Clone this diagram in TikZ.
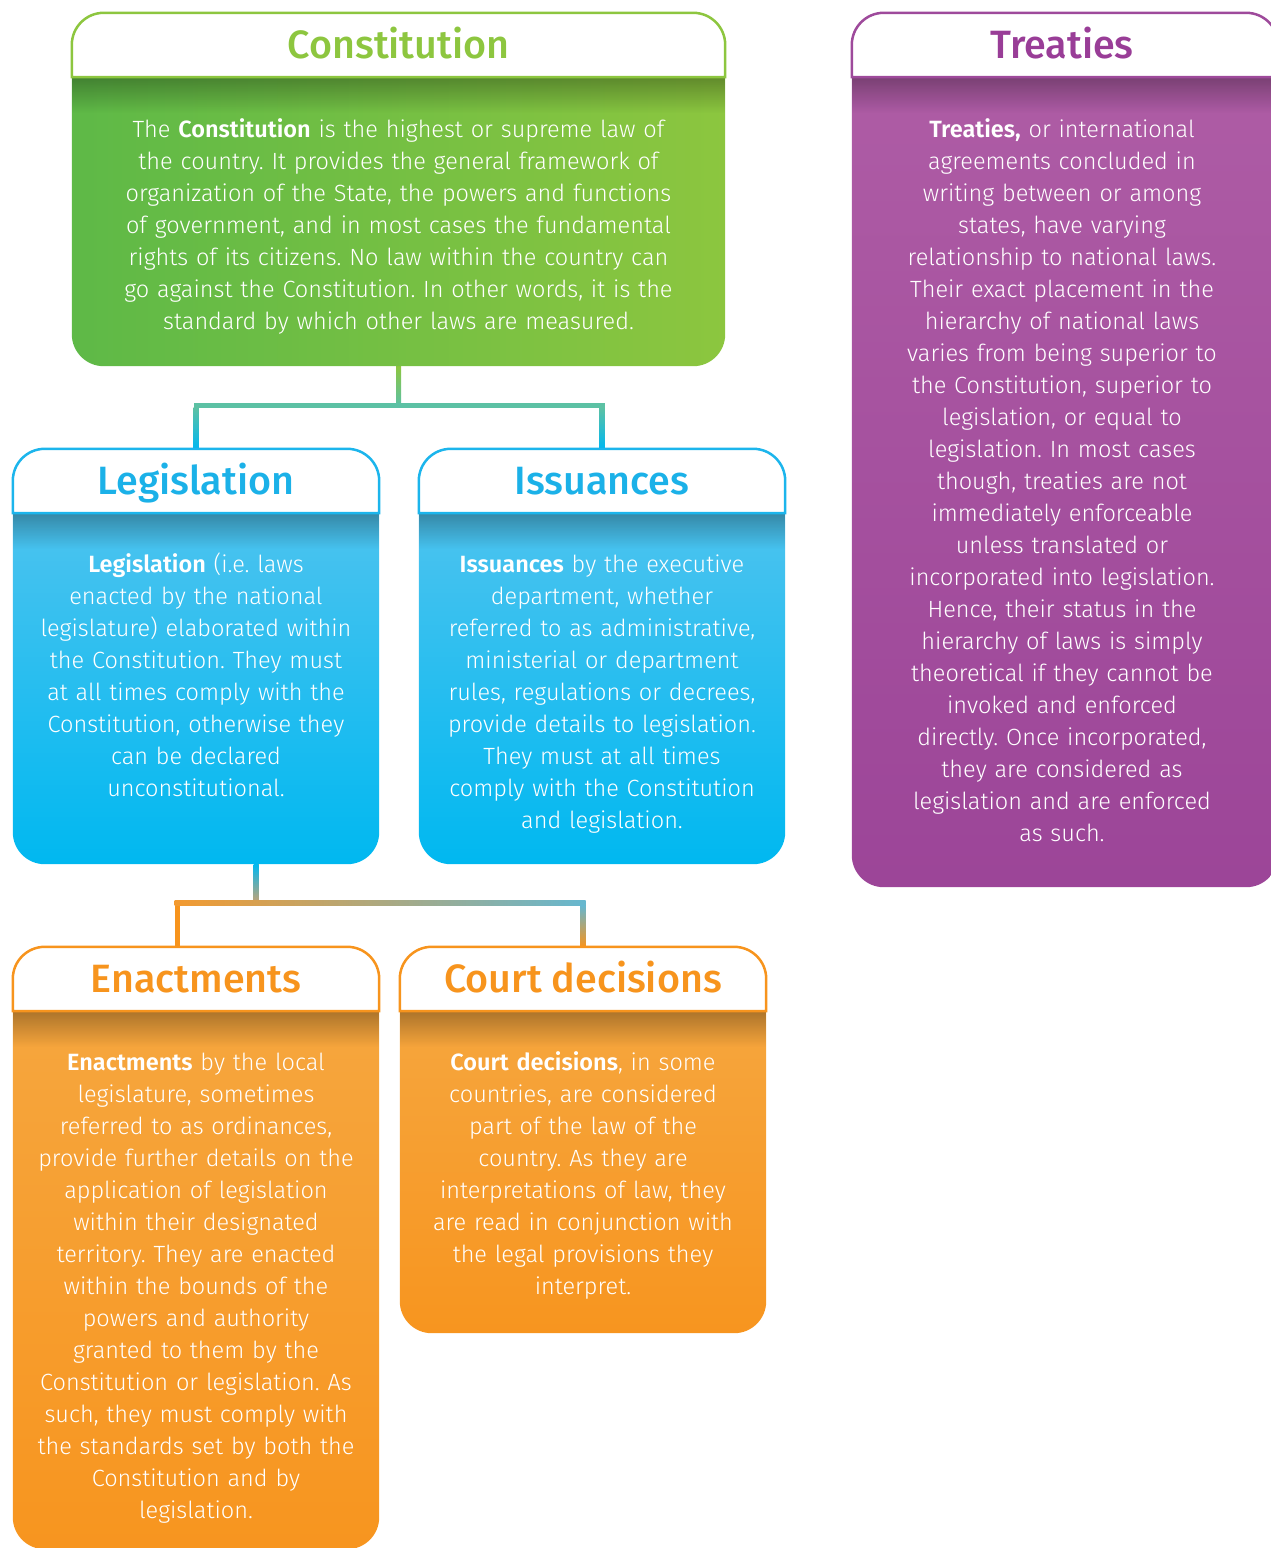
\documentclass[tikz,border=0pt]{standalone}
\usepackage{fontspec}
\newfontfamily\bodyfont{Fira Sans}[UprightFont=* Light, BoldFont=* SemiBold]
\newfontfamily\titlefont{Fira Sans}[UprightFont=* Medium]
\usetikzlibrary{fadings,backgrounds}
\frenchspacing
\definecolor{gT}{HTML}{8DC63F}
\definecolor{gL}{HTML}{5EB947}
\definecolor{gR}{HTML}{8CC63F}
\definecolor{cT}{HTML}{1BB1E8}
\definecolor{cB}{HTML}{1CB5EC}
\definecolor{cTop}{HTML}{4DC3EF}
\definecolor{cBot}{HTML}{00B8F0}
\definecolor{oT}{HTML}{F7941D}
\definecolor{oTop}{HTML}{F6A63E}
\definecolor{oBot}{HTML}{F7951F}
\definecolor{pT}{HTML}{993D97}
\definecolor{pB}{HTML}{9E4A9B}
\definecolor{pTop}{HTML}{AE5CA5}
\definecolor{pBot}{HTML}{9C4598}
\definecolor{teal1}{HTML}{5CC1A4}
\definecolor{tan1}{HTML}{C9A272}
\definecolor{blue1}{HTML}{66B7CF}
\definecolor{org1}{HTML}{F39A30}
\newcommand\mkcard[8]{%
  \node[hdrbox, minimum width=#3pt, text=#7] (#1H) at (#2,#4) {#8};
  \node[bodybox, minimum width=#3pt, minimum height=#6pt] (#1B) at (#2,#5) {};
}
\newcommand\drawcard[3]{%
  \shade[#3] (#1B.north west) -- (#1B.north east) -- ([yshift=32pt]#1B.south east)
    arc[start angle=0,end angle=-90,radius=32pt] -- ([xshift=32pt]#1B.south west)
    arc[start angle=270,end angle=180,radius=32pt] -- cycle;
  \fill[black, fill opacity=0.3, path fading=south] (#1B.north west) rectangle ([yshift=-36pt]#1B.north east);
  \draw[line width=2.5pt, draw=#2, fill=white] (#1H.south west) -- ([yshift=-32pt]#1H.north west)
    arc[start angle=180,end angle=90,radius=32pt] -- ([xshift=-32pt]#1H.north east)
    arc[start angle=90,end angle=0,radius=32pt] -- (#1H.south east) -- cycle;
}
\begin{document}
\begin{tikzpicture}[x=1pt,y=1pt,
  hdrbox/.style={inner sep=0pt, minimum height=64pt, text height=27pt, text depth=0pt,
    font=\titlefont\fontsize{39.5pt}{44pt}\selectfont},
  bodybox/.style={inner sep=0pt, draw=none},
  bodytext/.style={inner sep=0pt, anchor=base, align=center, text=white,
    font=\bodyfont\fontsize{23.5pt}{32pt}\selectfont},
  conn/.style={line width=5pt}]
\useasboundingbox (0,0) rectangle (1270,-1548);

\mkcard{con}{398.5}{653}{-45}{-221.5}{289}{gT}{Constitution}
\mkcard{tre}{1065}{426}{-45}{-482}{810}{pT}{\hspace*{-6pt}Treaties}
\mkcard{leg}{196}{366}{-481}{-688.5}{351}{cT}{Legislation}
\mkcard{iss}{602}{366}{-481}{-688.5}{351}{cT}{Issuances}
\mkcard{ena}{196}{366}{-979}{-1280}{538}{oT}{Enactments}
\mkcard{cou}{583}{366}{-979}{-1172}{322}{oT}{Court decisions}

\node[bodytext, text width=645pt] (conX) at (398.5,-137) {The \textbf{Constitution} is the highest or supreme law of\\
the country. It provides the general framework of\\
organization of the State, the powers and functions\\
of government, and in most cases the fundamental\\
rights of its citizens. No law within the country can\\
go against the Constitution. In other words, it is the\\
standard by which other laws are measured.};

\node[bodytext, text width=416pt] (treX) at (1062,-137) {\textbf{Treaties,} or international\\
agreements concluded in\\
writing between or among\\
states, have varying\\
relationship to national laws.\\
Their exact placement in the\\
hierarchy of national laws\\
varies from being superior to\\
the Constitution, superior to\\
legislation, or equal to\\
legislation. In most cases\\
though, treaties are not\\
immediately enforceable\\
unless translated or\\
incorporated into legislation.\\
Hence, their status in the\\
hierarchy of laws is simply\\
theoretical if they cannot be\\
invoked and enforced\\
directly. Once incorporated,\\
they are considered as\\
legislation and are enforced\\
as such.};

\node[bodytext, text width=362pt] (legX) at (196,-572) {\textbf{Legislation} (i.e. laws\\
enacted by the national\\
legislature) elaborated within\\
the Constitution. They must\\
at all times comply with the\\
Constitution, otherwise they\\
can be declared\\
unconstitutional.};

\node[bodytext, text width=362pt] (issX) at (602,-572) {\textbf{Issuances} by the executive\\
department, whether\\
referred to as administrative,\\
ministerial or department\\
rules, regulations or decrees,\\
provide details to legislation.\\
They must at all times\\
comply with the Constitution\\
and legislation.};

\node[bodytext, text width=362pt] (enaX) at (196,-1070) {\textbf{Enactments} by the local\\
legislature, sometimes\\
referred to as ordinances,\\
provide further details on the\\
application of legislation\\
within their designated\\
territory. They are enacted\\
within the bounds of the\\
powers and authority\\
granted to them by the\\
Constitution or legislation. As\\
such, they must comply with\\
the standards set by both the\\
Constitution and by\\
legislation.};

\node[bodytext, text width=362pt] (couX) at (583,-1070) {\textbf{Court decisions}, in some\\
countries, are considered\\
part of the law of the\\
country. As they are\\
interpretations of law, they\\
are read in conjunction with\\
the legal provisions they\\
interpret.};

\begin{pgfonlayer}{background}
  % connector 1
  \coordinate (c1) at ([yshift=-39pt]conB.south);
  \coordinate (c1L) at (legH.north |- c1);
  \coordinate (c1R) at (issH.north |- c1);
  \draw[conn, teal1] (conB.south) -- (c1) -| (legH.north);
  \draw[conn, teal1] (c1) -| (issH.north);
  \shade[top color=gT, bottom color=teal1] ([xshift=-2.5pt]conB.south) rectangle ([xshift=2.5pt]c1);
  \fill[teal1] ([xshift=-2.5pt,yshift=2.5pt]c1L) rectangle ([xshift=2.5pt,yshift=-2.5pt]c1R);
  \shade[top color=teal1, middle color=cBot, bottom color=cBot] ([xshift=-2.5pt,yshift=-2.5pt]c1L) rectangle ([xshift=2.5pt]legH.north);
  \shade[top color=teal1, middle color=cBot, bottom color=cBot] ([xshift=-2.5pt,yshift=-2.5pt]c1R) rectangle ([xshift=2.5pt]issH.north);
  % connector 2
  \coordinate (c2s) at ([xshift=60pt]legB.south);
  \coordinate (c2) at ([yshift=-39pt]c2s);
  \coordinate (enaIn) at ([xshift=-19pt]enaH.north);
  \coordinate (c2L) at (enaIn |- c2);
  \coordinate (c2R) at (couH.north |- c2);
  \draw[conn, oT] (c2s) -- (c2) -| (enaIn);
  \draw[conn, oT] (c2) -| (couH.north);
  \shade[top color=cBot, middle color=cBot, bottom color=tan1] ([xshift=-2.5pt]c2s) rectangle ([xshift=2.5pt]c2);
  \shade[left color=org1, right color=blue1] ([xshift=-2.5pt,yshift=2.5pt]c2L) rectangle ([xshift=2.5pt,yshift=-2.5pt]c2R);
  \shade[top color=blue1, middle color=oT, bottom color=oT] ([xshift=-2.5pt,yshift=-2.5pt]c2R) rectangle ([xshift=2.5pt]couH.north);
  % cards
  \drawcard{con}{gT}{left color=gL, right color=gR}
  \drawcard{tre}{pB}{top color=pTop, bottom color=pBot}
  \drawcard{leg}{cB}{top color=cTop, bottom color=cBot}
  \drawcard{iss}{cB}{top color=cTop, bottom color=cBot}
  \drawcard{ena}{oT}{top color=oTop, bottom color=oBot}
  \drawcard{cou}{oT}{top color=oTop, bottom color=oBot}
\end{pgfonlayer}
\end{tikzpicture}
\end{document}
